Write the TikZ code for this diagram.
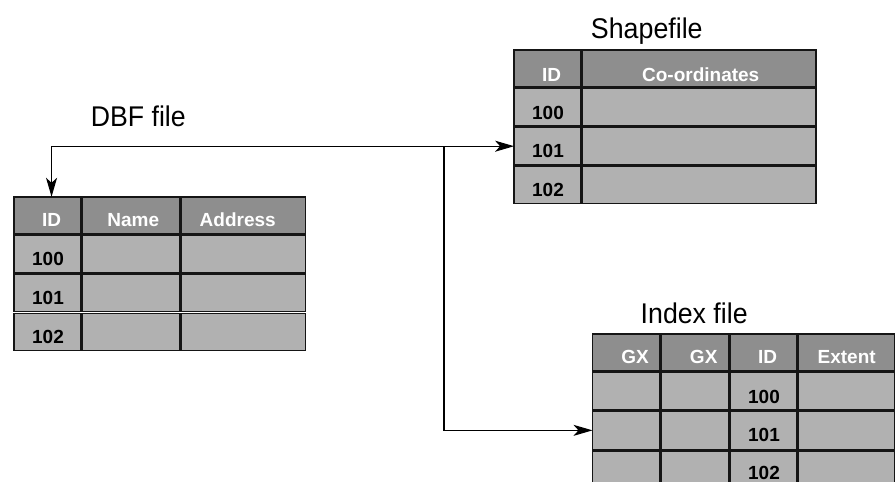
\documentclass[tikz,border=0pt]{standalone}
\usepackage{fontspec}
\usepackage{graphicx}
\setmainfont{Liberation Sans}
\usetikzlibrary{arrows.meta}
\definecolor{hdrgray}{HTML}{8E8E8E}
\definecolor{bodygray}{HTML}{B1B1B1}
\definecolor{edgecol}{HTML}{151515}
\newcommand{\mkcell}[6]{%
  \node[#2, minimum width={#5-#3-1.6}, minimum height={#6-#4-1.6}] (#1) at ({(#3+#5)/2},{(#4+#6)/2}) {};}
\tikzset{
  cellbase/.style={draw=edgecol, line width=1.4pt, inner sep=0pt, outer sep=0pt, rectangle},
  hcell/.style={cellbase, fill=hdrgray},
  bcell/.style={cellbase, fill=bodygray},
  htext/.style={anchor=base, inner sep=0pt, text=white, font=\bfseries\fontsize{19}{20}\selectfont},
  btext/.style={anchor=base, inner sep=0pt, text=black, font=\bfseries\fontsize{19}{20}\selectfont},
  ttext/.style={anchor=base, inner sep=0pt, text=black, font=\fontsize{28.5}{30}\selectfont},
  conn/.style={draw=black, line width=1.2pt},
  mytip/.tip={Stealth[length=19pt, width=11pt, inset=5pt]}
}
\begin{document}
\begin{tikzpicture}[x=1pt, y=-1pt]
\useasboundingbox (0,0) rectangle (895,482);
\clip (0,0) rectangle (895,482);
\fill[white] (0,0) rectangle (895,482);
% ---------- DBF table ----------
\mkcell{d00}{hcell}{13.3}{196}{81}{234.3}
\mkcell{d01}{hcell}{81}{196}{180}{234.3}
\mkcell{d02}{hcell}{180}{196}{306.5}{234.3}
\mkcell{d10}{bcell}{13.3}{234.3}{81}{273.3}
\mkcell{d11}{bcell}{81}{234.3}{180}{273.3}
\mkcell{d12}{bcell}{180}{234.3}{306.5}{273.3}
\mkcell{d20}{bcell}{13.3}{273.3}{81}{312.5}
\mkcell{d21}{bcell}{81}{273.3}{180}{312.5}
\mkcell{d22}{bcell}{180}{273.3}{306.5}{312.5}
\mkcell{d30}{bcell}{13.3}{312.5}{81}{351}
\mkcell{d31}{bcell}{81}{312.5}{180}{351}
\mkcell{d32}{bcell}{180}{312.5}{306.5}{351}
\node[htext] (dt00) at (51.7,226.7) {ID};
\node[htext] (dt01) at (133.3,226.7) {Name};
\node[htext] (dt02) at (237.7,226.7) {Address};
\node[btext] (dt10) at (48,265.3) {100};
\node[btext] (dt20) at (48,304.6) {101};
\node[btext] (dt30) at (48,343.4) {102};
\node[ttext] (dtitle) at (138.3,126.7) {\scalebox{0.935}[1]{DBF file}};
% ---------- Shapefile ----------
\mkcell{s00}{hcell}{513.3}{49.3}{581.7}{87.3}
\mkcell{s01}{hcell}{581.7}{49.3}{816.7}{87.3}
\mkcell{s10}{bcell}{513.3}{87.3}{581.7}{126.7}
\mkcell{s11}{bcell}{581.7}{87.3}{816.7}{126.7}
\mkcell{s20}{bcell}{513.3}{126.7}{581.7}{165.7}
\mkcell{s21}{bcell}{581.7}{126.7}{816.7}{165.7}
\mkcell{s30}{bcell}{513.3}{165.7}{581.7}{204}
\mkcell{s31}{bcell}{581.7}{165.7}{816.7}{204}
\node[htext] (st00) at (551.7,81) {ID};
\node[htext] (st01) at (700.7,81) {Co-ordinates};
\node[btext] (st10) at (548,119) {100};
\node[btext] (st20) at (548,157.7) {101};
\node[btext] (st30) at (548,196.7) {102};
\node[ttext] (stitle) at (646.8,38.3) {\scalebox{0.94}[1]{Shapefile}};
% ---------- Index file ----------
\mkcell{i00}{hcell}{591.7}{333.3}{660}{371.7}
\mkcell{i01}{hcell}{660}{333.3}{729}{371.7}
\mkcell{i02}{hcell}{729}{333.3}{797.7}{371.7}
\mkcell{i03}{hcell}{797.7}{333.3}{895.5}{371.7}
\mkcell{i10}{bcell}{591.7}{371.7}{660}{410.7}
\mkcell{i11}{bcell}{660}{371.7}{729}{410.7}
\mkcell{i12}{bcell}{729}{371.7}{797.7}{410.7}
\mkcell{i13}{bcell}{797.7}{371.7}{895.5}{410.7}
\mkcell{i20}{bcell}{591.7}{410.7}{660}{450}
\mkcell{i21}{bcell}{660}{410.7}{729}{450}
\mkcell{i22}{bcell}{729}{410.7}{797.7}{450}
\mkcell{i23}{bcell}{797.7}{410.7}{895.5}{450}
\mkcell{i30}{bcell}{591.7}{450}{660}{489}
\mkcell{i31}{bcell}{660}{450}{729}{489}
\mkcell{i32}{bcell}{729}{450}{797.7}{489}
\mkcell{i33}{bcell}{797.7}{450}{895.5}{489}
\node[htext] (it00) at (635,363.3) {GX};
\node[htext] (it01) at (703.7,363.3) {GX};
\node[htext] (it02) at (767.5,363.3) {ID};
\node[htext] (it03) at (846.7,363.3) {Extent};
\node[btext] (it12) at (764,403.3) {100};
\node[btext] (it22) at (764,441.7) {101};
\node[btext] (it32) at (764,479.8) {102};
\node[ttext] (ititle) at (694.2,323.3) {\scalebox{0.9375}[1]{Index file}};
% ---------- connectors ----------
\coordinate (dbfin) at ([xshift=4.4pt]d00.north);
\coordinate (branch) at (444,146.2);
\draw[conn, mytip-mytip] (dbfin) |- (s20.west);
\draw[conn, -mytip] (branch) |- (i20.west);
\end{tikzpicture}
\end{document}
